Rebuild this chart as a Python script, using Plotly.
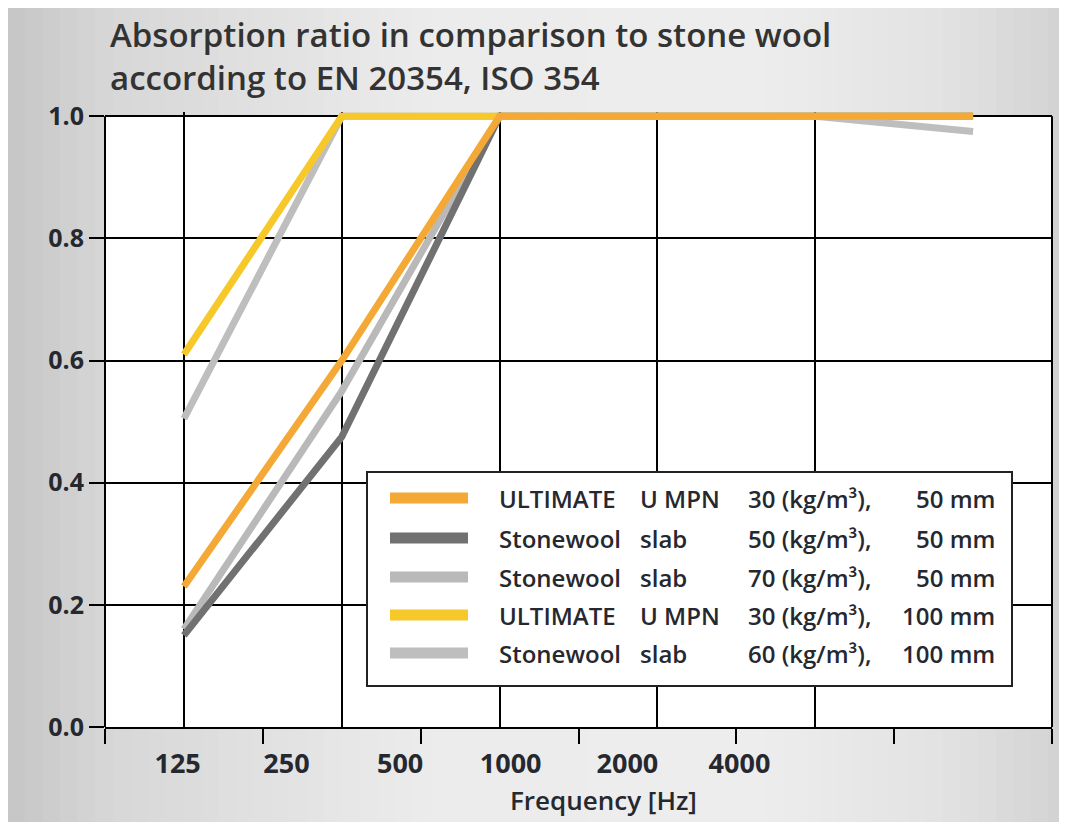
import plotly.graph_objects as go

# ---------------- data ----------------
freqs = [125, 250, 500, 1000, 2000, 4000]
x_tick_labels = ["125", "250", "500", "1000", "2000", "4000"]
y_ticks = [0.0, 0.2, 0.4, 0.6, 0.8, 1.0]

ultimate_30kg_50mm = [0.23, 0.60, 1.0, 1.0, 1.0, 1.0]
stonewool_50kg_50mm = [0.15, 0.475, 1.0, 1.0, 1.0, 1.0]
stonewool_70kg_50mm = [0.16, 0.55, 1.0, 1.0, 1.0, 1.0]
ultimate_30kg_100mm = [0.61, 1.0, 1.0, 1.0, 1.0, 1.0]
stonewool_60kg_100mm = [0.505, 1.0, 1.0, 1.0, 1.0, 0.975]

product_col = ["ULTIMATE", "Stonewool", "Stonewool", "ULTIMATE", "Stonewool"]
type_col = ["U MPN", "slab", "slab", "U MPN", "slab"]
density_col = ["30 (kg/m³),", "50 (kg/m³),", "70 (kg/m³),", "30 (kg/m³),", "60 (kg/m³),"]
thickness_col = ["50 mm", "50 mm", "50 mm", "100 mm", "100 mm"]

series_values = [ultimate_30kg_50mm, stonewool_50kg_50mm, stonewool_70kg_50mm,
                 ultimate_30kg_100mm, stonewool_60kg_100mm]
series_colors = ["#F4A936", "#717171", "#B9B9B9", "#F6C82A", "#BEBEBE"]
draw_order = [2, 1, 4, 3, 0]

# tick label positions (in category-index units) as placed in the original
label_positions = [-0.04, 0.65, 1.37, 2.07, 2.81, 3.52]

# ---------------- layout geometry ----------------
OFF = 8                      # page body margin added by the browser
PAGE_W, PAGE_H = 1067, 822
W, H = PAGE_W - OFF, PAGE_H - OFF
ML, MR, MT, MB = 105 - OFF, 15, 112 - OFF, 95
PW, PH = W - ML - MR, H - MT - MB

def px_x(px):                # page pixel -> paper coord
    return (px - OFF - ML) / PW

def px_y(py):
    return (PAGE_H - MB - py) / PH

FONT = "Open Sans"
TXT = "#26282f"

xs = list(range(len(freqs)))

fig = go.Figure()
for i in draw_order:
    fig.add_trace(go.Scatter(
        x=xs, y=series_values[i], mode="lines",
        line=dict(color=series_colors[i], width=7),
        name=" ".join([product_col[i], type_col[i], density_col[i], thickness_col[i]]),
        showlegend=False, hoverinfo="x+y",
    ))

# helper trace for the label axis
fig.add_trace(go.Scatter(x=label_positions, y=[None] * len(label_positions),
                         xaxis="x2", yaxis="y", mode="lines", showlegend=False,
                         hoverinfo="skip"))

shapes = []
# background gradient (paper)
stops = [(0.0, 198), (0.10, 215), (0.40, 236), (0.70, 237), (0.88, 227), (1.0, 210)]
N = 60
for k in range(N):
    f = (k + 0.5) / N
    for (a, ca), (b, cb) in zip(stops[:-1], stops[1:]):
        if a <= f <= b:
            c = int(round(ca + (cb - ca) * (f - a) / (b - a)))
            break
    x0 = (W * k / N - ML) / PW - 0.001
    x1 = (W * (k + 1) / N - ML) / PW + 0.001
    shapes.append(dict(type="rect", xref="paper", yref="paper",
                       x0=x0, x1=x1, y0=-MB / PH - 0.01, y1=(H - MB) / PH + 0.01,
                       fillcolor=f"rgb({c},{c},{c})", line=dict(width=0), layer="below"))
# white plot area up to 1.0
shapes.append(dict(type="rect", xref="x domain", yref="y", x0=0, x1=1, y0=0, y1=1.0,
                   fillcolor="white", line=dict(width=0), layer="below"))
# left / right borders
for xd in (0, 1):
    shapes.append(dict(type="line", xref="x domain", yref="y", x0=xd, x1=xd, y0=0, y1=1.0,
                       line=dict(color="black", width=2), layer="above"))

# custom legend box
lg_x0, lg_x1, lg_y0, lg_y1 = 367, 1012, 472, 686
shapes.append(dict(type="rect", xref="paper", yref="paper",
                   x0=px_x(lg_x0), x1=px_x(lg_x1), y0=px_y(lg_y1), y1=px_y(lg_y0),
                   fillcolor="white", line=dict(color="#222", width=2), layer="above"))
row_y = [498, 538, 577, 615, 653]
annotations = []
for r, i in enumerate(range(len(series_values))):
    yy = px_y(row_y[r])
    shapes.append(dict(type="line", xref="paper", yref="paper",
                       x0=px_x(390), x1=px_x(468), y0=yy, y1=yy,
                       line=dict(color=series_colors[i], width=11), layer="above"))
    for txt, xpx, anchor in ((product_col[i], 497, "left"), (type_col[i], 638, "left"),
                             (density_col[i], 746, "left"), (thickness_col[i], 997, "right")):
        annotations.append(dict(text=txt, xref="paper", yref="paper", x=px_x(xpx), y=yy,
                                xanchor=anchor, yanchor="middle", showarrow=False,
                                font=dict(family=FONT, size=24, color=TXT, weight=600)))

# title
annotations.append(dict(
    text="Absorption ratio in comparison to stone wool<br>according to EN 20354, ISO 354",
    xref="paper", yref="paper", x=px_x(108), y=px_y(10), xanchor="left", yanchor="top",
    align="left", showarrow=False,
    font=dict(family=FONT, size=33, color="#333333", weight=600)))
# x-axis title
annotations.append(dict(text="Frequency [Hz]", xref="paper", yref="paper",
                        x=px_x(603), y=px_y(800), xanchor="center", yanchor="middle",
                        showarrow=False, font=dict(family=FONT, size=26, color=TXT, weight=600)))

fig.update_layout(
    width=W, height=H, autosize=False,
    margin=dict(l=ML, r=MR, t=MT, b=MB),
    paper_bgcolor="#e2e2e2", plot_bgcolor="rgba(0,0,0,0)",
    showlegend=False,
    xaxis=dict(range=[-0.5, len(freqs) - 0.5], tickmode="array",
               tickvals=xs[:-1], showticklabels=False, ticks="",
               showgrid=True, gridcolor="black", gridwidth=1.5,
               showline=True, linecolor="black", linewidth=2, zeroline=False,
               minor=dict(tickmode="array",
                          tickvals=[v - 0.5 for v in range(len(freqs) + 1)],
                          ticks="outside", ticklen=15, tickwidth=1.5, tickcolor="black",
                          showgrid=False),
               fixedrange=True),
    xaxis2=dict(overlaying="x", anchor="y", side="bottom",
                range=[-0.5, len(freqs) - 0.5], tickmode="array",
                tickvals=label_positions, ticktext=x_tick_labels,
                showgrid=False, showline=False, zeroline=False, ticks="",
                ticklabelstandoff=18,
                tickfont=dict(family=FONT, size=27, color=TXT, weight=700)),
    yaxis=dict(range=[0, 1.007], tickmode="array", tickvals=y_ticks, tickformat=".1f",
               ticks="outside", ticklen=15, tickwidth=1.5, tickcolor="black",
               showgrid=True, gridcolor="black", gridwidth=1.5,
               showline=False, zeroline=False,
               tickfont=dict(family=FONT, size=25, color=TXT, weight=700),
               fixedrange=True),
    shapes=shapes,
    annotations=annotations,
)

fig.write_html("out.html")
